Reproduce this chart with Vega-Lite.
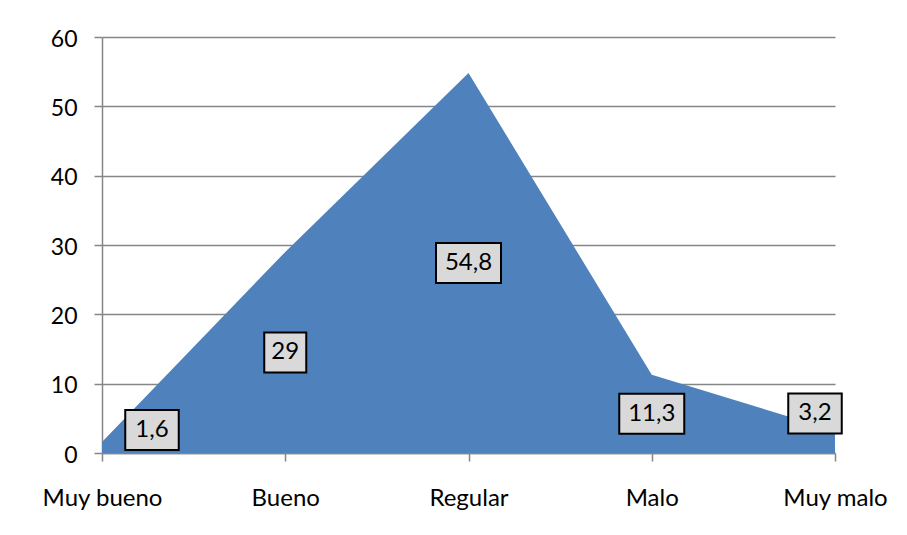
{
  "$schema": "https://vega.github.io/schema/vega-lite/v6.json",
  "width": 733,
  "height": 416,
  "autosize": "none",
  "padding": {"left": 102, "top": 37, "right": 72, "bottom": 82},
  "background": "white",
  "config": {"font": "Lato", "view": {"stroke": null}},
  "data": {
    "values": [
      {"cat": "Muy bueno", "value": 1.6},
      {"cat": "Bueno", "value": 29},
      {"cat": "Regular", "value": 54.8},
      {"cat": "Malo", "value": 11.3},
      {"cat": "Muy malo", "value": 3.2}
    ]
  },
  "encoding": {
    "x": {
      "field": "cat",
      "type": "ordinal",
      "sort": null,
      "scale": {"type": "point", "padding": 0},
      "axis": {
        "title": null,
        "labelAngle": 0,
        "labelFont": "Lato",
        "labelFontSize": 24,
        "labelColor": "black",
        "labelBaseline": "middle",
        "labelPadding": 37,
        "domainColor": "#868686",
        "domainWidth": 1.5,
        "tickColor": "#868686",
        "tickWidth": 1.5,
        "tickSize": 8,
        "grid": false
      }
    }
  },
  "layer": [
    {
      "mark": {"type": "area", "color": "#4f81bd", "opacity": 1},
      "encoding": {
        "y": {
          "field": "value",
          "type": "quantitative",
          "scale": {"domain": [0, 60], "nice": false},
          "axis": {
            "title": null,
            "values": [0, 10, 20, 30, 40, 50, 60],
            "labelFont": "Lato",
            "labelFontSize": 23,
            "labelColor": "black",
            "labelPadding": 17,
            "labelOffset": 2,
            "domainColor": "#868686",
            "domainWidth": 1.5,
            "tickColor": "#868686",
            "tickWidth": 1.5,
            "tickSize": 8,
            "grid": true,
            "gridColor": "#868686",
            "gridWidth": 1.5
          }
        }
      }
    },
    {
      "transform": [
        {"calculate": "datum.cat === 'Muy malo' ? 5.7 : max(datum.value / 2, 3.3)", "as": "ly"},
        {"calculate": "replace(toString(datum.value), '.', ',')", "as": "lbl"}
      ],
      "mark": {
        "type": "rect",
        "fill": "#d9d9d9",
        "stroke": "black",
        "strokeWidth": 2,
        "height": 40,
        "width": {"expr": "length(replace(toString(datum.value), '.', ',')) * 11.5 + 19"},
        "xOffset": {"expr": "datum.cat === 'Muy bueno' ? 50 : (datum.cat === 'Muy malo' ? -20 : 0)"}
      },
      "encoding": {
        "y": {"field": "ly", "type": "quantitative"}
      }
    },
    {
      "transform": [
        {"calculate": "datum.cat === 'Muy malo' ? 5.7 : max(datum.value / 2, 3.3)", "as": "ly"},
        {"calculate": "replace(toString(datum.value), '.', ',')", "as": "lbl"}
      ],
      "mark": {
        "type": "text",
        "font": "Lato",
        "fontSize": 24,
        "color": "black",
        "align": "center",
        "baseline": "middle",
        "xOffset": {"expr": "datum.cat === 'Muy bueno' ? 50 : (datum.cat === 'Muy malo' ? -20 : 0)"}
      },
      "encoding": {
        "y": {"field": "ly", "type": "quantitative"},
        "text": {"field": "lbl"}
      }
    }
  ]
}
